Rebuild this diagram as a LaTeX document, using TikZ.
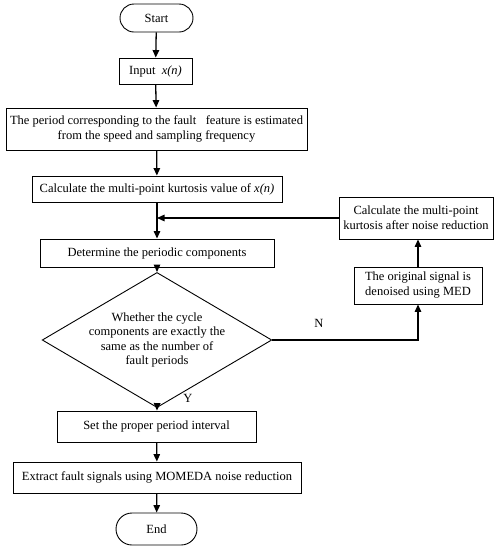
\documentclass[tikz,border=0pt]{standalone}
\usepackage{fontspec}
\setmainfont{Liberation Serif}
\usetikzlibrary{shapes.geometric,arrows.meta}
\begin{document}
\begin{tikzpicture}[x=1pt,y=-1pt,
  txt/.style={font=\fontsize{12.5}{15}\selectfont},
  box/.style={draw,line width=0.9pt,minimum width=#1,inner sep=1pt,align=center,txt},
  term/.style={draw,line width=0.9pt,rounded corners=14pt,minimum width=#1,inner sep=1pt,txt},
  dec/.style={draw,line width=0.9pt,diamond,aspect=1.7,inner sep=0pt,minimum width=180pt,minimum height=106pt,align=center,font=\fontsize{12.5}{14.5}\selectfont},
  arr/.style={line width=1.3pt,-{Triangle[length=7.5pt,width=6.5pt]}},
  lbl/.style={txt}]
\useasboundingbox (0,0) rectangle (503,550);
\node[term=73pt,minimum height=28pt] (start) at (156.5,18) {Start};
\node[box=73pt,minimum height=26pt] (input) at (155.5,71) {Input \ \textit{x(n)}};
\node[box=301pt,minimum height=42pt] (period) at (156.5,129) {The period corresponding to the fault \ \ feature is estimated\\from the speed and sampling frequency};
\node[box=250pt,minimum height=26pt] (calc) at (157,189) {Calculate the multi-point kurtosis value of \textit{x(n)}};
\node[box=234pt,minimum height=28pt] (det) at (157,253) {Determine the periodic components};
\node[dec] (dia) at (157,340) {Whether the cycle\\components are exactly the\\same as the number of\\fault periods};
\node[box=199pt,minimum height=31pt] (set) at (156.5,426.5) {Set the proper period interval};
\node[box=288pt,minimum height=31pt] (ext) at (157,477.5) {Extract fault signals using MOMEDA noise reduction};
\node[term=81pt,minimum height=32pt,rounded corners=16pt] (end) at (156.5,529) {End};
\node[box=154pt,minimum height=42pt] (kurt) at (416,218) {Calculate the multi-point\\kurtosis after noise reduction};
\node[box=128pt,minimum height=37pt] (med) at (418,285.5) {The original signal is\\denoised using MED};
\coordinate (j) at (157,218);
\coordinate (c) at (418,340);
\node[lbl] (n) at (319,323) {N};
\node[lbl] (y) at (188,398) {Y};
\draw[arr] (start) -- (input);
\draw[arr] (input) -- (period);
\draw[arr] (period) -- (calc);
\draw[arr] (calc) -- (det);
\draw[arr] (kurt.west) -- (j);
\draw[arr] (det) -- (dia);
\draw[arr] (dia.south) -- (set);
\draw[arr] (set) -- (ext);
\draw[arr] (ext) -- (end);
\draw[arr] (dia.east) -- (c) -- (med.south);
\draw[arr] (med.north) -- (med.north |- kurt.south);
\end{tikzpicture}
\end{document}
